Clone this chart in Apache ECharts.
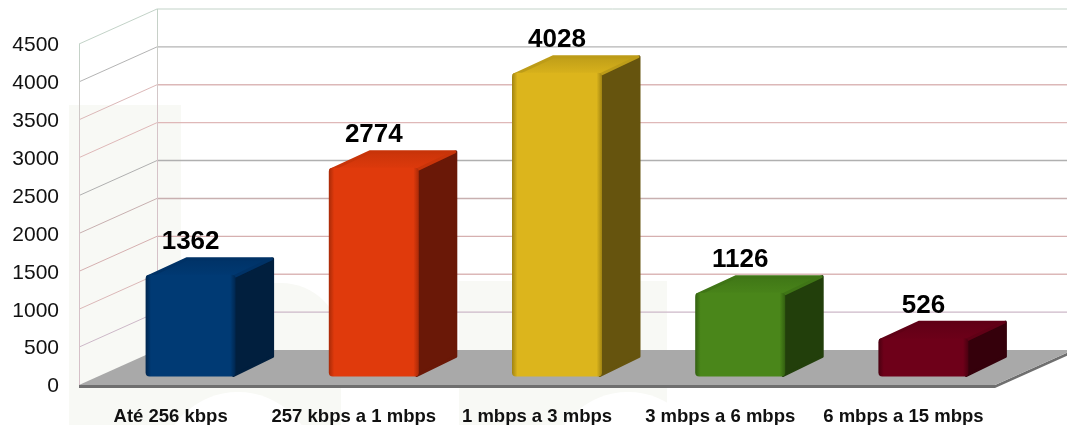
<!DOCTYPE html>
<html>
<head>
<meta charset="utf-8">
<style>html,body{margin:0;padding:0;background:#fff}#chart{width:1067px;height:425px}</style>
<script src="https://cdn.jsdelivr.net/npm/echarts@6/dist/echarts.min.js"></script>
</head>
<body>
<div id="chart"></div>
<script>
const categories = ['Até 256 kbps', '257 kbps a 1 mbps', '1 mbps a 3 mbps', '3 mbps a 6 mbps', '6 mbps a 15 mbps'];
const values = [1362, 2774, 4028, 1126, 526];
const gridTicks = [500, 1000, 1500, 2000, 2500, 3000, 3500, 4000, 4500];

const frontColors = ['#003a74', '#e03a0c', '#dcb51c', '#4a861a', '#6e0019'];
const edgeColors = ['#00264e', '#a82a08', '#a08312', '#325f10', '#4a0010'];
const topColors = ['#003266', '#c83409', '#bd9c18', '#3f7516', '#600016'];
const sideColors = ['#011f3e', '#6a1807', '#66540e', '#223f0b', '#35000b'];
const tickColors = ['#cdb8c8', '#dcb8b8', '#d6b0b0', '#c8b0b0', '#b0b0b0', '#dfb8b8', '#dcb8b8', '#b4b4b4', '#c3d3c8'];

// depth of the room and of each bar in screen pixels
const ROOM_DX = 78, ROOM_DY = -35;
const BAR_DX = 39, BAR_DY = -18, BAR_W = 90;
const BAR_SHIFT_X = 20, BAR_SHIFT_Y = -8.5, BAR_TOP_SHIFT = -7;

const chart = echarts.init(document.getElementById('chart'));

function renderFloor(params, api) {
  const cs = params.coordSys;
  const y0 = api.coord([0, 0])[1];
  const l = cs.x, r = cs.x + cs.width;
  return {
    type: 'group',
    children: [
      { type: 'polygon', shape: { points: [[l, y0 + 3], [r, y0 + 3], [r + ROOM_DX, y0 + ROOM_DY + 3], [r + ROOM_DX, y0 + ROOM_DY], [r, y0], [l, y0]] }, style: { fill: '#6f6f6f' } },
      { type: 'polygon', shape: { points: [[l, y0], [r, y0], [r + ROOM_DX, y0 + ROOM_DY], [l + ROOM_DX, y0 + ROOM_DY]] }, style: { fill: '#a9a9a9' } }
    ]
  };
}

function renderWallLine(params, api) {
  const cs = params.coordSys;
  const y = api.coord([0, api.value(0)])[1];
  const l = cs.x, r = 1067 + 10;
  const isTop = api.value(0) === gridTicks[gridTicks.length - 1];
  const color = tickColors[params.dataIndex];
  const children = [
    { type: 'line', shape: { x1: l, y1: y, x2: l + ROOM_DX, y2: y + ROOM_DY }, style: { stroke: color, lineWidth: 1 } },
    { type: 'line', shape: { x1: l + ROOM_DX, y1: y + ROOM_DY, x2: r, y2: y + ROOM_DY }, style: { stroke: color, lineWidth: isTop ? 1 : 1.4 } }
  ];
  if (isTop) {
    const y0 = api.coord([0, 0])[1];
    const wall = new echarts.graphic.LinearGradient(0, 0, 0, 1, [{ offset: 0, color: '#c3d3c8' }, { offset: 0.3, color: '#d6c4c8' }, { offset: 1, color: '#d6c0c8' }]);
    children.push(
      { type: 'rect', shape: { x: l, y: y, width: 1, height: y0 - y }, style: { fill: wall } },
      { type: 'rect', shape: { x: l + ROOM_DX, y: y + ROOM_DY, width: 1, height: y0 - y }, style: { fill: wall } }
    );
  }
  return { type: 'group', children };
}

function hGrad(a, b) {
  return new echarts.graphic.LinearGradient(0, 0, 1, 0, [
    { offset: 0, color: a }, { offset: 0.06, color: b }, { offset: 0.94, color: b }, { offset: 1, color: a }
  ]);
}

function renderBar(params, api) {
  const i = params.dataIndex;
  const pt = api.coord([api.value(0), api.value(1)]);
  const y0 = api.coord([api.value(0), 0])[1];
  const left = pt[0] + BAR_SHIFT_X - BAR_W / 2;
  const right = left + BAR_W;
  const top = pt[1] + BAR_TOP_SHIFT;
  const bottom = y0 + BAR_SHIFT_Y;
  const round = { lineWidth: 3, lineJoin: 'round' };
  return {
    type: 'group',
    children: [
      {
        type: 'polygon',
        shape: { points: [[right - 2, top + 2], [right + BAR_DX - 2, top + BAR_DY + 2], [right + BAR_DX - 2, bottom + BAR_DY - 2], [right - 2, bottom - 1]] },
        style: Object.assign({ fill: sideColors[i], stroke: sideColors[i] }, round)
      },
      {
        type: 'polygon',
        shape: { points: [[left + 2, top + 2], [left + BAR_DX + 2, top + BAR_DY + 2], [right + BAR_DX - 3, top + BAR_DY + 2], [right - 2, top + 2]] },
        style: Object.assign({
          fill: new echarts.graphic.LinearGradient(0, 0, 0, 1, [{ offset: 0, color: topColors[i] }, { offset: 1, color: frontColors[i] }]),
          stroke: topColors[i]
        }, round)
      },
      {
        type: 'rect',
        shape: { x: left, y: top, width: BAR_W, height: bottom - top, r: 4 },
        style: { fill: hGrad(edgeColors[i], frontColors[i]) }
      },
      {
        type: 'text',
        x: pt[0] + BAR_SHIFT_X,
        y: top + BAR_DY - 14.5,
        style: { text: String(api.value(1)), font: 'bold 26px "Liberation Sans"', fill: '#000', align: 'center', verticalAlign: 'middle' }
      }
    ]
  };
}

chart.setOption({
  animation: false,
  backgroundColor: '#fff',
  // faint watermark behind the plot
  graphic: [
    { type: 'rect', z: -10, shape: { x: 69, y: 105, width: 112, height: 320 }, style: { fill: '#f8f9f5' } },
    { type: 'rect', z: -10, shape: { x: 181, y: 283, width: 160, height: 142, r: [0, 60, 0, 0] }, style: { fill: '#f8f9f5' } },
    { type: 'circle', z: -9, shape: { cx: 238, cy: 470, r: 78 }, style: { fill: '#fff' } },
    { type: 'rect', z: -10, shape: { x: 459, y: 281, width: 208, height: 144 }, style: { fill: '#f8f9f5' } },
    { type: 'circle', z: -9, shape: { cx: 628, cy: 470, r: 78 }, style: { fill: '#fff' } }
  ],
  grid: { left: 79, top: 44, width: 916, height: 341, outerBoundsMode: 'none' },
  xAxis: {
    type: 'category',
    data: categories,
    axisLine: { show: false },
    axisTick: { show: false },
    axisLabel: { interval: 0, margin: 22, color: '#111', fontFamily: 'Liberation Sans', fontWeight: 'bold', fontSize: 18.5 }
  },
  yAxis: {
    type: 'value',
    min: 0,
    max: 4500,
    interval: 500,
    axisLine: { show: false },
    axisTick: { show: false },
    splitLine: { show: false },
    axisLabel: {
      margin: 20,
      formatter: v => '{t|' + v + '}',
      rich: { t: { padding: [3, 0, 0, 0], color: '#111', fontFamily: 'Liberation Sans', fontSize: 21 } }
    }
  },
  series: [
    { type: 'custom', z: 2, silent: true, data: gridTicks.map(t => [t]), encode: { y: 0 }, renderItem: renderWallLine },
    { type: 'custom', z: 3, silent: true, data: [[0]], renderItem: renderFloor },
    { type: 'custom', z: 4, silent: true, data: values.map((v, i) => [i, v]), encode: { x: 0, y: 1 }, renderItem: renderBar }
  ]
});
</script>
</body>
</html>
